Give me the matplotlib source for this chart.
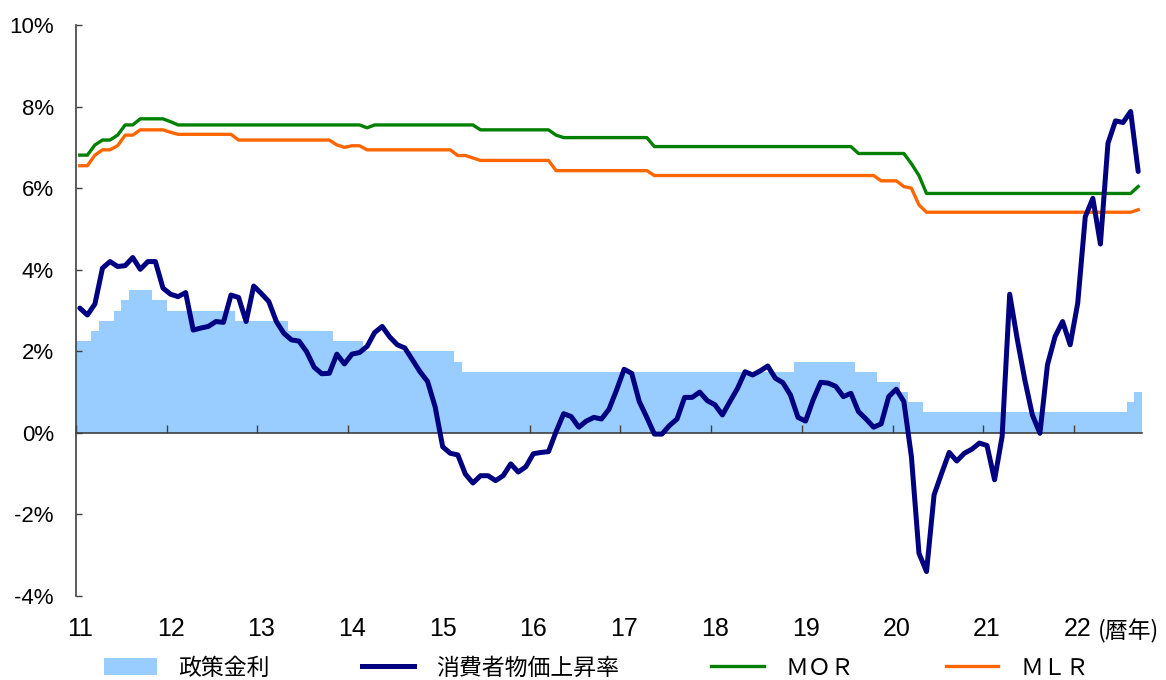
import matplotlib
matplotlib.use("Agg")
import matplotlib.pyplot as plt
import matplotlib.transforms as mtransforms
from matplotlib.patches import Patch
from matplotlib.lines import Line2D
import numpy as np

# monthly data, Jan 2011 - Sep 2022
years = ["11", "12", "13", "14", "15", "16", "17", "18", "19", "20", "21", "22"]

policy_rate = (
    [2.25, 2.25, 2.50, 2.75, 2.75, 3.00, 3.25, 3.50, 3.50, 3.50, 3.25, 3.25]
    + [3.00] * 9 + [2.75] * 3
    + [2.75] * 4 + [2.50] * 6 + [2.25] * 2
    + [2.25] * 2 + [2.00] * 10
    + [2.00] * 2 + [1.75] + [1.50] * 9
    + [1.50] * 12
    + [1.50] * 12
    + [1.50] * 11 + [1.75]
    + [1.75] * 7 + [1.50] * 3 + [1.25] * 2
    + [1.25, 1.00, 0.75, 0.75] + [0.50] * 8
    + [0.50] * 12
    + [0.50] * 7 + [0.75, 1.00]
)

cpi = [
    3.06, 2.89, 3.16, 4.04, 4.20, 4.08, 4.10, 4.30, 4.01, 4.20, 4.20, 3.55,
    3.40, 3.34, 3.44, 2.52, 2.57, 2.61, 2.73, 2.71, 3.38, 3.32, 2.73, 3.60,
    3.42, 3.22, 2.73, 2.44, 2.28, 2.25, 1.99, 1.61, 1.45, 1.46, 1.93, 1.69,
    1.93, 1.97, 2.12, 2.46, 2.61, 2.35, 2.16, 2.08, 1.79, 1.50, 1.26, 0.64,
    -0.34, -0.50, -0.54, -1.01, -1.23, -1.05, -1.05, -1.17, -1.05, -0.76, -0.96, -0.83,
    -0.51, -0.48, -0.46, 0.03, 0.47, 0.40, 0.14, 0.29, 0.38, 0.34, 0.58, 1.05,
    1.56, 1.46, 0.77, 0.38, -0.03, -0.03, 0.18, 0.34, 0.87, 0.87, 1.00, 0.79,
    0.69, 0.44, 0.77, 1.09, 1.50, 1.42, 1.52, 1.64, 1.34, 1.23, 0.93, 0.38,
    0.29, 0.81, 1.24, 1.22, 1.14, 0.89, 0.97, 0.52, 0.34, 0.14, 0.22, 0.89,
    1.07, 0.77, -0.58, -2.95, -3.40, -1.52, -0.99, -0.48, -0.69, -0.50, -0.40, -0.25,
    -0.31, -1.15, -0.09, 3.40, 2.30, 1.30, 0.44, -0.01, 1.67, 2.36, 2.73, 2.16,
    3.18, 5.30, 5.75, 4.63, 7.10, 7.65, 7.61, 7.88, 6.41,
]

mor = (
    [6.81, 6.81, 7.06, 7.18, 7.18, 7.30, 7.55, 7.55, 7.70, 7.70, 7.70, 7.70]
    + [7.63] + [7.55] * 11
    + [7.55] * 12
    + [7.55, 7.55, 7.48] + [7.55] * 9
    + [7.55] * 5 + [7.43] * 7
    + [7.43] * 3 + [7.30] + [7.24] * 8
    + [7.24] * 4 + [7.02] * 8
    + [7.02] * 12
    + [7.02] * 7 + [6.85] * 5
    + [6.85, 6.85, 6.60, 6.31] + [5.87] * 8
    + [5.87] * 12
    + [5.87] * 8 + [6.04]
)

mlr = (
    [6.55, 6.55, 6.81, 6.94, 6.94, 7.04, 7.30, 7.30, 7.43, 7.43, 7.43, 7.43]
    + [7.37] + [7.32] * 8 + [7.18] * 3
    + [7.18] * 10 + [7.06, 7.00]
    + [7.04, 7.04] + [6.94] * 10
    + [6.94, 6.94, 6.80, 6.80, 6.74] + [6.68] * 7
    + [6.68] * 3 + [6.43] * 9
    + [6.43] * 4 + [6.31] * 8
    + [6.31] * 12
    + [6.31] * 10 + [6.18] * 2
    + [6.18, 6.04, 6.00, 5.59] + [5.41] * 8
    + [5.41] * 12
    + [5.41] * 8 + [5.47]
)

yticks = [-4, -2, 0, 2, 4, 6, 8, 10]
ytick_labels = ["-4%", "-2%", "0%", "2%", "4%", "6%", "8%", "10%"]

labels = ["政策金利", "消費者物価上昇率", "ＭＯＲ", "ＭＬＲ"]
c_policy = "#99ccff"
c_cpi = "#000080"
c_mor = "#008000"
c_mlr = "#ff6600"
c_axis = "#404040"

n = len(cpi)
x = np.arange(n) + 0.5

fig = plt.figure(figsize=(11.66, 6.8), dpi=100)
ax = fig.add_axes([0.0652, 0.1235, 0.9142, 0.8397])

ax.bar(x, policy_rate, width=1.0, color=c_policy, linewidth=0, zorder=1)
ax.plot(x, mor, color=c_mor, lw=2.4, zorder=3, solid_joinstyle="round")
ax.plot(x, mlr, color=c_mlr, lw=2.4, zorder=3, solid_joinstyle="round")
ax.plot(x, cpi, color=c_cpi, lw=3.6, zorder=4, solid_joinstyle="round",
        solid_capstyle="round")

ax.set_xlim(0, n)
ax.set_ylim(-4, 10)

for s in ["top", "right"]:
    ax.spines[s].set_visible(False)
ax.spines["bottom"].set_position(("data", 0))
ax.spines["bottom"].set_color(c_axis)
ax.spines["left"].set_color(c_axis)
ax.spines["bottom"].set_linewidth(1.2)
ax.spines["left"].set_linewidth(1.2)
ax.spines["bottom"].set_zorder(2.5)

ax.set_yticks(yticks)
ax.set_yticklabels(ytick_labels, fontsize=16, family="Liberation Sans")
ax.tick_params(axis="y", direction="in", length=4, width=1, color=c_axis, pad=16)

ax.set_xticks(np.arange(0, n, 12))
ax.set_xticklabels([])
ax.tick_params(axis="x", direction="in", length=6, width=1, color=c_axis)

# year labels sit at the January point, below the plot
trans = mtransforms.blended_transform_factory(ax.transData, fig.transFigure)
for k, yr in enumerate(years):
    ax.text(12 * k + 0.5, 1 - 629 / 680, yr, transform=trans, ha="center", va="center",
            fontsize=18, family=["Liberation Sans Narrow", "Liberation Sans"])
fig.text(1098 / 1166, 1 - 631 / 680, "(暦年)", ha="left", va="center",
         fontsize=16.5, family=["Noto Sans CJK JP", "DejaVu Sans"])

handles = [
    Patch(facecolor=c_policy, edgecolor="none"),
    Line2D([], [], color=c_cpi, lw=3.6),
    Line2D([], [], color=c_mor, lw=2.4),
    Line2D([], [], color=c_mlr, lw=2.4),
]
fig.legend(handles, labels, loc="center left", bbox_to_anchor=(104 / 1166, 1 - 668 / 680),
           ncol=4, frameon=False, borderpad=0, borderaxespad=0,
           handlelength=2.3, handletextpad=0.95, columnspacing=4.0,
           prop={"family": ["Noto Sans CJK JP", "DejaVu Sans"], "size": 16.5})

fig.savefig("out.png", dpi=100)
